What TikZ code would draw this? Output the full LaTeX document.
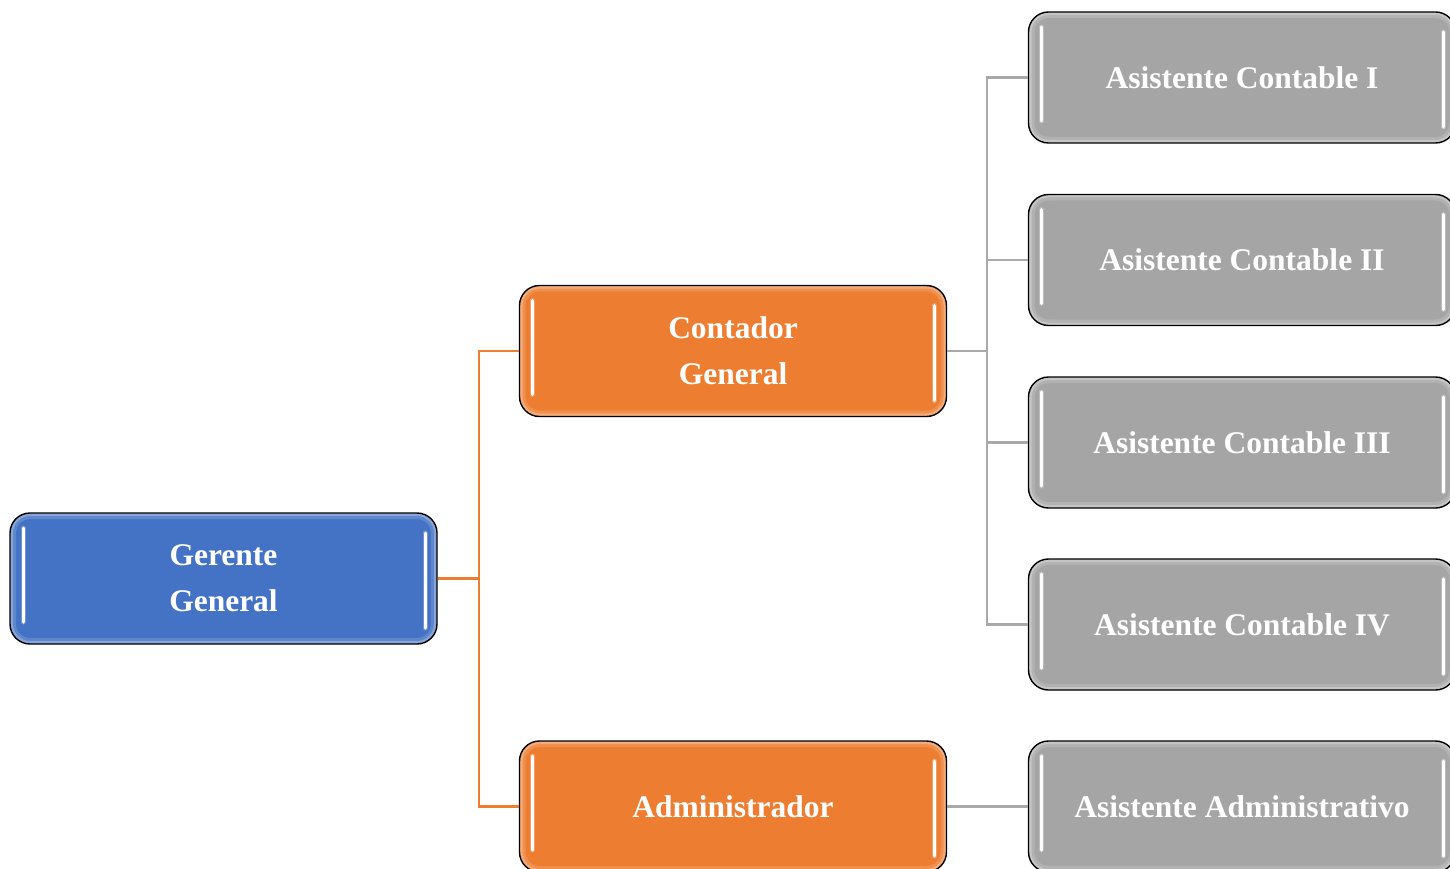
\documentclass[tikz,border=0pt]{standalone}
\usepackage{fontspec}
\setmainfont{Liberation Serif}
\definecolor{cblue}{HTML}{4472C4}
\definecolor{corange}{HTML}{ED7D31}
\definecolor{cgray}{HTML}{A5A5A5}
\definecolor{cline}{HTML}{A9A9A9}
\tikzset{
  gloss/.style={
    draw=black, line width=1.4pt, fill=#1,
    minimum width=427pt, minimum height=131pt, inner sep=0pt,
    rounded corners=20pt, text=white, align=center,
    font=\bfseries\fontsize{31.5}{46}\selectfont,
    path picture={
      \draw[white, opacity=0.15, line width=12pt, rounded corners=20pt]
        (path picture bounding box.south west) rectangle (path picture bounding box.north east);
      \draw[white, opacity=0.25, line width=6pt, rounded corners=20pt]
        (path picture bounding box.south west) rectangle (path picture bounding box.north east);
      \draw[white, opacity=0.25, line width=5pt, line cap=round]
        ([shift={(13pt,-15pt)}]path picture bounding box.north west) --
        ([shift={(13pt,22pt)}]path picture bounding box.south west);
      \draw[white, line width=3pt, line cap=round]
        ([shift={(13pt,-15pt)}]path picture bounding box.north west) --
        ([shift={(13pt,22pt)}]path picture bounding box.south west);
      \draw[white, opacity=0.25, line width=5pt, line cap=round]
        ([shift={(-12pt,-20pt)}]path picture bounding box.north east) --
        ([shift={(-12pt,16pt)}]path picture bounding box.south east);
      \draw[white, line width=3pt, line cap=round]
        ([shift={(-12pt,-20pt)}]path picture bounding box.north east) --
        ([shift={(-12pt,16pt)}]path picture bounding box.south east);
    }
  },
  oline/.style={draw=corange, line width=2.6pt},
  gline/.style={draw=cline, line width=2.6pt}
}
\begin{document}
\begin{tikzpicture}[x=1pt,y=-1pt]
\useasboundingbox (0,0) rectangle (1450,869);
\clip (0,0) rectangle (1450,869);
\fill[white] (0,0) rectangle (1450,869);
\node[gloss=cblue] (g) at (223.5,578.5) {Gerente\\General};
\node[gloss=corange] (c) at (733,351) {Contador\\General};
\node[gloss=corange] (a) at (733,806.5) {Administrador};
\node[gloss=cgray] (a1) at (1242,77.5) {Asistente Contable I};
\node[gloss=cgray] (a2) at (1242,260) {Asistente Contable II};
\node[gloss=cgray] (a3) at (1242,442.5) {Asistente Contable III};
\node[gloss=cgray] (a4) at (1242,624.5) {Asistente Contable IV};
\node[gloss=cgray] (a5) at (1242,806.5) {Asistente Administrativo};
\coordinate (j1) at (479,578.5);
\coordinate (j2) at (987,351);
\draw[oline] (g.east) -- (j1);
\draw[oline] (j1) |- (c.west);
\draw[oline] (j1) |- (a.west);
\draw[gline] (c.east) -- (j2);
\draw[gline] (j2) |- (a1.west);
\draw[gline] (j2) |- (a2.west);
\draw[gline] (j2) |- (a3.west);
\draw[gline] (j2) |- (a4.west);
\draw[gline] (a.east) -- (a5.west);
\end{tikzpicture}
\end{document}
